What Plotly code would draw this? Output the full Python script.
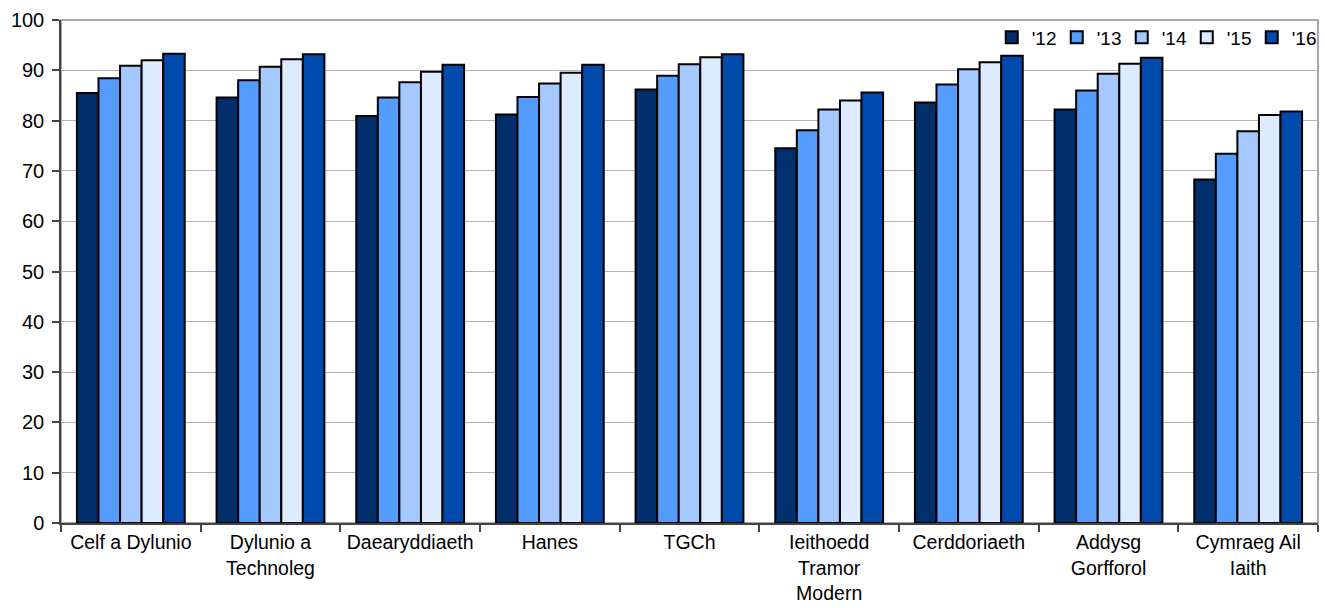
import plotly.graph_objects as go

categories = ["Celf a Dylunio", "Dylunio a<br>Technoleg", "Daearyddiaeth", "Hanes", "TGCh",
              "Ieithoedd<br>Tramor<br>Modern", "Cerddoriaeth", "Addysg<br>Gorfforol", "Cymraeg Ail<br>Iaith"]
series_names = ["'12", "'13", "'14", "'15", "'16"]
v12 = [85.5, 84.6, 80.9, 81.2, 86.2, 74.5, 83.6, 82.2, 68.3]
v13 = [88.4, 88.0, 84.6, 84.7, 88.9, 78.1, 87.2, 86.0, 73.4]
v14 = [90.9, 90.7, 87.6, 87.4, 91.2, 82.2, 90.2, 89.3, 77.9]
v15 = [92.0, 92.2, 89.7, 89.5, 92.6, 84.0, 91.6, 91.3, 81.1]
v16 = [93.3, 93.2, 91.1, 91.1, 93.2, 85.6, 92.9, 92.5, 81.8]
y_ticks = list(range(0, 101, 10))

colors = ["#002F6C", "#559CFF", "#A4C8FF", "#DCEBFF", "#004AAC"]
values = [v12, v13, v14, v15, v16]

FONT = "Liberation Sans, Arial, sans-serif"

fig = go.Figure()
for name, vals, col in zip(series_names, values, colors):
    fig.add_trace(go.Bar(
        x=categories, y=vals, name=name,
        marker=dict(color=col, line=dict(color="#000000", width=2)),
    ))

fig.update_layout(
    width=1325, height=608,
    margin=dict(l=61, r=7, t=20, b=85, autoexpand=False),
    paper_bgcolor="white", plot_bgcolor="white",
    barmode="group", bargap=0.228, bargroupgap=0,
    font=dict(family=FONT, size=19, color="#000000"),
    showlegend=True,
    legend=dict(
        orientation="h", x=0.999, xanchor="right", y=1.003, yanchor="top",
        font=dict(family=FONT, size=19, color="#000000"),
        bgcolor="rgba(0,0,0,0)", itemwidth=30, traceorder="normal",
        entrywidth=20, entrywidthmode="pixels",
    ),
    shapes=[dict(type="rect", xref="paper", yref="paper", x0=0, x1=1, y0=0, y1=1,
                 line=dict(color="#A8A8A8", width=2), layer="below")],
)

fig.update_xaxes(
    showgrid=False, showline=True, linecolor="#444444", linewidth=1.5,
    ticks="outside", tickson="boundaries", ticklen=7, tickcolor="#444444", tickwidth=1.5,
    tickfont=dict(family=FONT, size=19.5, color="#000000"), tickangle=0, automargin=False,
    ticklabelstandoff=1,
)
fig.update_yaxes(
    range=[0, 100], tickvals=y_ticks, showgrid=True, gridcolor="#B4B4B4", gridwidth=1,
    showline=True, linecolor="#444444", linewidth=1.5,
    ticks="outside", ticklen=7, tickcolor="#444444", tickwidth=1.5,
    tickfont=dict(family=FONT, size=20, color="#000000"),
    zeroline=False, automargin=False, ticklabelstandoff=4,
)

fig.write_html("out.html", config={"displayModeBar": False},
               post_script="document.body.style.margin='0';document.body.style.overflow='hidden';")
